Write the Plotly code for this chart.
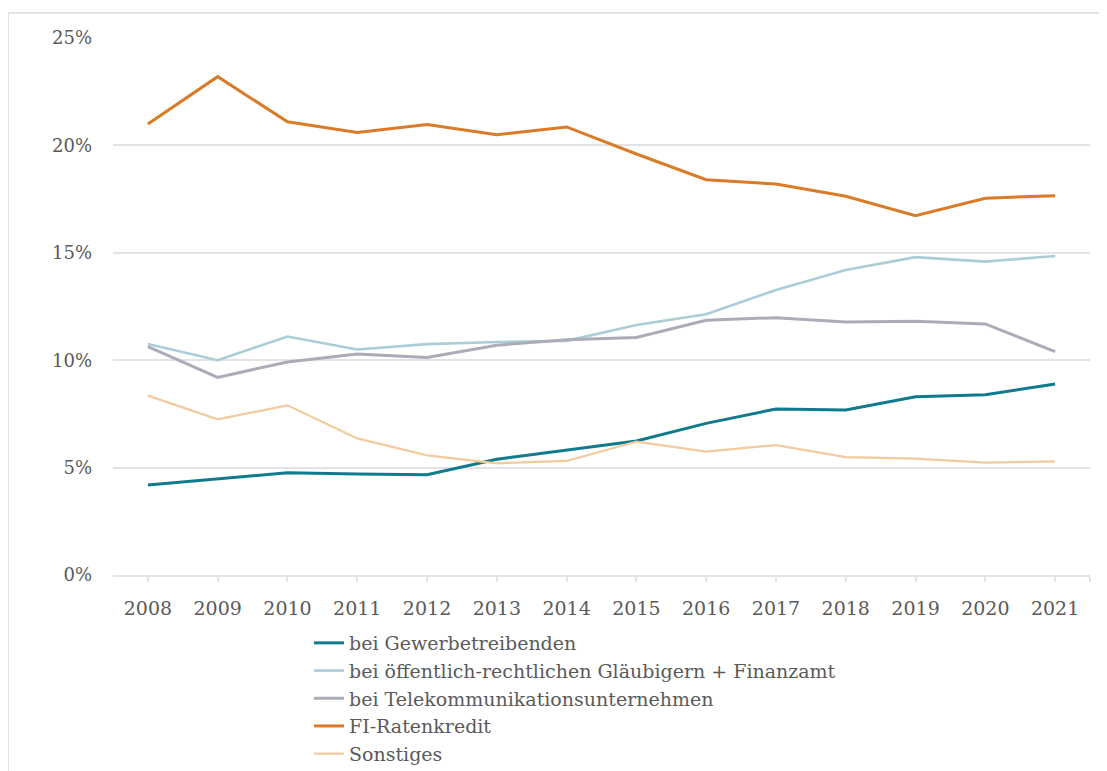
import plotly.graph_objects as go

years = list(range(2008, 2022))

gewerbe = [4.19, 4.47, 4.76, 4.70, 4.67, 5.39, 5.82, 6.24, 7.06, 7.73, 7.68, 8.30, 8.39, 8.89]
oeffentlich = [10.75, 10.0, 11.1, 10.5, 10.75, 10.85, 10.9, 11.64, 12.14, 13.27, 14.2, 14.8, 14.59, 14.85]
telekom = [10.63, 9.2, 9.92, 10.29, 10.13, 10.7, 10.95, 11.06, 11.86, 11.98, 11.78, 11.81, 11.69, 10.4]
ratenkredit = [21.0, 23.2, 21.1, 20.6, 20.97, 20.5, 20.86, 19.6, 18.4, 18.2, 17.63, 16.73, 17.54, 17.66]
sonstiges = [8.35, 7.25, 7.9, 6.36, 5.57, 5.2, 5.31, 6.21, 5.74, 6.05, 5.49, 5.42, 5.23, 5.29]

series = [
    ("bei Gewerbetreibenden", gewerbe, "#0F7A8C", 3),
    ("bei öffentlich-rechtlichen Gläubigern + Finanzamt", oeffentlich, "#AACDD6", 2.6),
    ("bei Telekommunikationsunternehmen", telekom, "#AEABB9", 3),
    ("FI-Ratenkredit", ratenkredit, "#D97B27", 3),
    ("Sonstiges", sonstiges, "#F3CA9E", 2.2),
]

FONT = "DejaVu Serif"
TXT = "#5a5a5a"
GRID = "#e2e2e8"

fig = go.Figure()
for i, (name, vals, color, w) in enumerate(series):
    fig.add_trace(go.Scatter(
        x=years, y=vals, name=name, mode="lines",
        line=dict(color=color, width=w),
        legendgroup=f"g{i}",
    ))

# page has an 8px body margin; figure coordinates below are relative to the figure
W, H = 1099, 763
L, R, T, B = 105, 17, 30, 196
pw, ph = W - L - R, H - T - B

def px_x(p):
    return (p - L) / pw

def px_y(p):
    return (H - B - p) / ph

fig.update_layout(
    width=W, height=H,
    margin=dict(l=L, r=R, t=T, b=B, autoexpand=False),
    paper_bgcolor="white", plot_bgcolor="white",
    font=dict(family=FONT, size=18, color=TXT),
    showlegend=True,
    legend=dict(
        x=px_x(301), y=px_y(616), xanchor="left", yanchor="top",
        font=dict(family=FONT, size=19, color=TXT),
        tracegroupgap=0, bgcolor="rgba(0,0,0,0)",
    ),
    xaxis=dict(
        range=[2007.5, 2021.5],
        tickvals=years + [2021.5],
        ticktext=[str(y) for y in years] + [""],
        showgrid=False, zeroline=False,
        showline=True, linecolor=GRID, linewidth=1.5,
        ticks="outside", ticklen=5, tickcolor=GRID, tickwidth=1.5,
        ticklabelstandoff=10,
        tickfont=dict(family=FONT, size=19, color=TXT),
    ),
    yaxis=dict(
        range=[0, 25], dtick=5, ticksuffix="%",
        showgrid=True, gridcolor=GRID, gridwidth=1.5,
        zeroline=False, showline=False, ticks="",
        ticklabelstandoff=20,
        tickfont=dict(family=FONT, size=18, color=TXT),
    ),
    shapes=[
        dict(type="line", xref="paper", yref="paper",
             x0=px_x(0), x1=px_x(W + 5), y0=px_y(5), y1=px_y(5),
             line=dict(color="#e3e3e3", width=2)),
        dict(type="line", xref="paper", yref="paper",
             x0=px_x(0), x1=px_x(0), y0=px_y(5), y1=px_y(H + 5),
             line=dict(color="#e3e3e3", width=2)),
    ],
)

fig.write_html("out.html")
